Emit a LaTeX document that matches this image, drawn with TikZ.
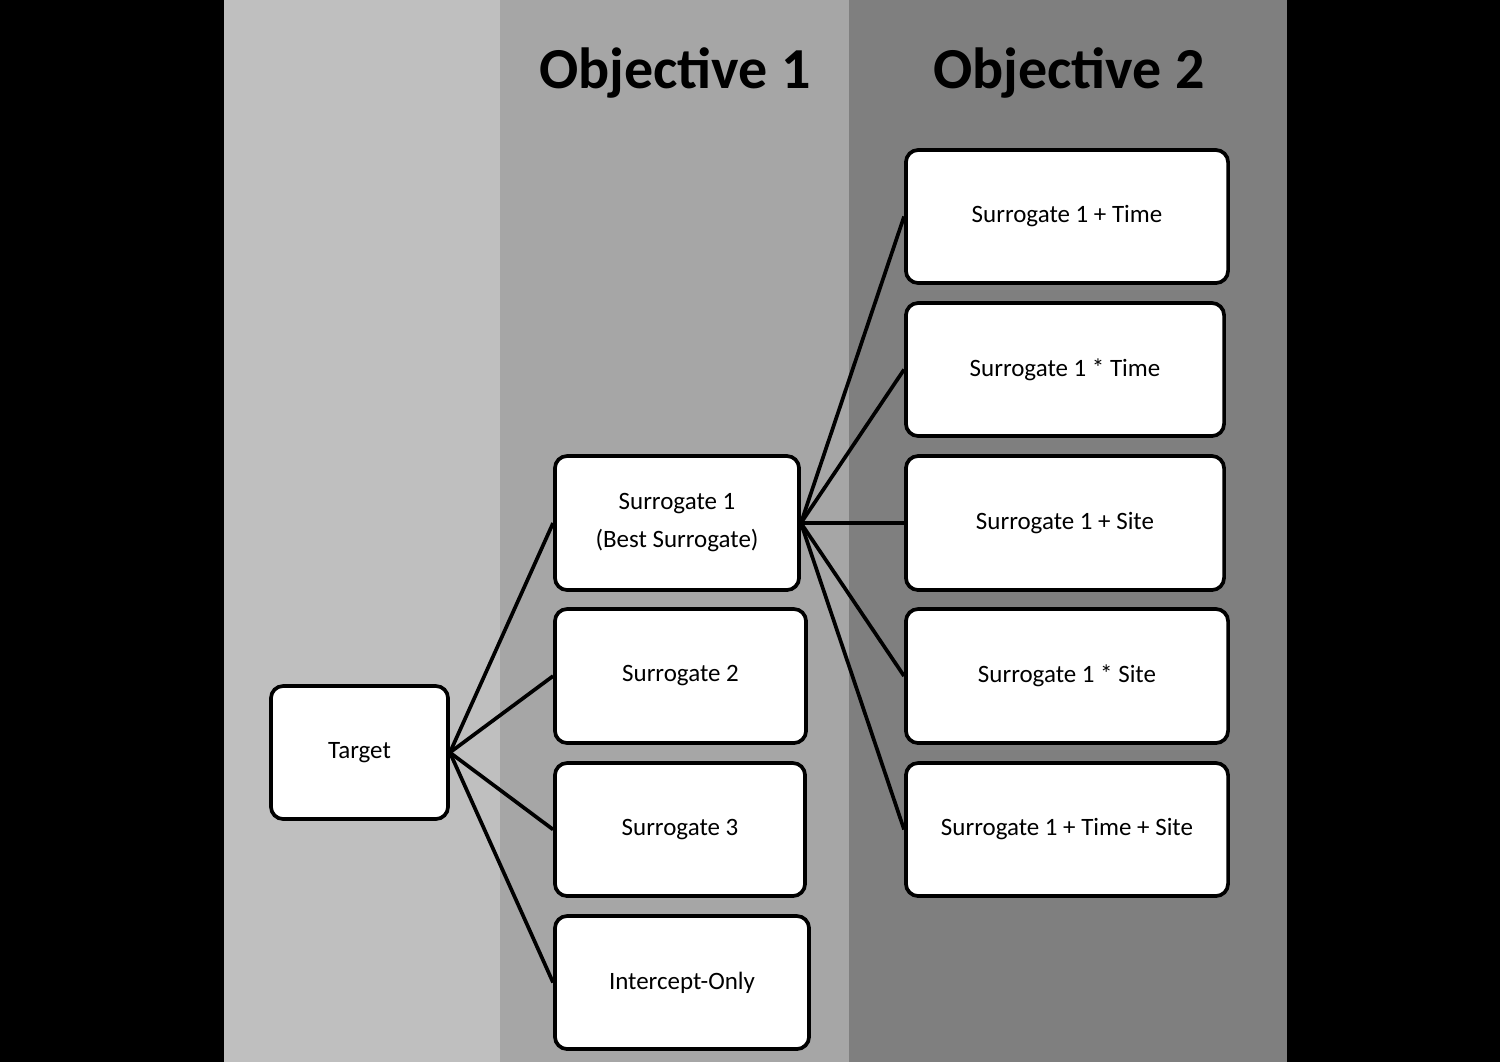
\documentclass[tikz,border=0pt]{standalone}
\usepackage{fontspec}
\setmainfont{Carlito}
\definecolor{colA}{RGB}{191, 191, 191}
\definecolor{colB}{RGB}{166, 166, 166}
\definecolor{colC}{RGB}{127, 127, 127}
\tikzset{
    modelbox/.style={draw, fill=white, line width=1.05pt, rounded corners=3.5pt,
        inner sep=0pt, align=center, font=\fontsize{7.1}{10.8}\selectfont},
    objtitle/.style={font=\fontsize{16.5}{18}\selectfont\bfseries},
    link/.style={line width=1.05pt},
}
\begin{document}
\begin{tikzpicture}[x=0.01cm, y=-0.01cm]
            % background columns
            \fill[black] (0, 0) rectangle (1500, 1062);
            \fill[colA] (224, 0) rectangle (500, 1062);
            \fill[colB] (500, 0) rectangle (849, 1062);
            \fill[colC] (849, 0) rectangle (1287, 1062);
            \node[objtitle] (obja) at (675, 73) {Objective 1};
            \node[objtitle] (objb) at (1069, 73) {Objective 2};
            \node[modelbox, minimum width=1.77cm, minimum height=1.33cm]
                (target) at (359.5, 752.5) {Target};
            \node[modelbox, minimum width=2.44cm, minimum height=1.34cm]
                (sura) at (677, 523) {Surrogate 1\\(Best Surrogate)};
            \node[modelbox, minimum width=2.51cm, minimum height=1.34cm]
                (surb) at (680.5, 676) {Surrogate 2};
            \node[modelbox, minimum width=2.50cm, minimum height=1.33cm]
                (surc) at (680, 829.5) {Surrogate 3};
            \node[modelbox, minimum width=2.54cm, minimum height=1.33cm]
                (icpt) at (682, 982.5) {Intercept-Only};
            \node[modelbox, minimum width=3.22cm, minimum height=1.33cm]
                (addtime) at (1067, 216.5) {Surrogate 1 + Time};
            \node[modelbox, minimum width=3.18cm, minimum height=1.33cm]
                (multime) at (1065, 369.5) {Surrogate 1 * Time};
            \node[modelbox, minimum width=3.18cm, minimum height=1.34cm]
                (addsite) at (1065, 523) {Surrogate 1 + Site};
            \node[modelbox, minimum width=3.22cm, minimum height=1.34cm]
                (mulsite) at (1067, 676) {Surrogate 1 * Site};
            \node[modelbox, minimum width=3.22cm, minimum height=1.33cm]
                (addboth) at (1067, 829.5) {Surrogate 1 + Time + Site};
            \foreach \m in {sura, surb, surc, icpt}
                \draw[link] (target.east) -- (\m.west);
            \foreach \m in {addtime, multime, addsite, mulsite, addboth}
                \draw[link] (sura.east) -- (\m.west);
        \end{tikzpicture}
\end{document}
